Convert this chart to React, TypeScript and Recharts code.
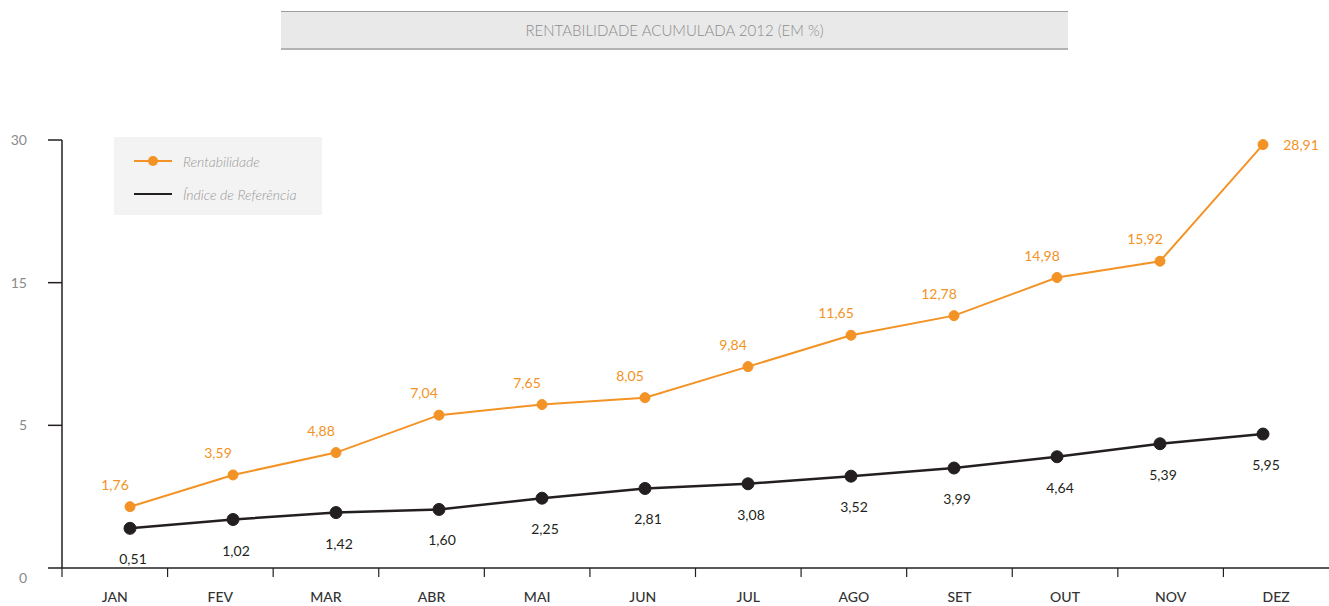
import { LineChart, Line, XAxis, YAxis, Legend, LabelList } from "recharts";

const months = ["JAN", "FEV", "MAR", "ABR", "MAI", "JUN", "JUL", "AGO", "SET", "OUT", "NOV", "DEZ"];
const rentabilidade = [1.76, 3.59, 4.88, 7.04, 7.65, 8.05, 9.84, 11.65, 12.78, 14.98, 15.92, 28.91];
const indice = [0.51, 1.02, 1.42, 1.6, 2.25, 2.81, 3.08, 3.52, 3.99, 4.64, 5.39, 5.95];
const yTicks = [0, 5, 15, 30];

const data = months.map((m, i) => ({ month: m, rent: rentabilidade[i], ind: indice[i] }));

const ORANGE = "#f39325";
const DARK = "#231f20";
const FONT = "Lato, 'Open Sans', sans-serif";
const W = 1329;
const H = 606;
const BAND = (W - 62) / 12;

// the original uses a broken (piecewise) value axis, so build a small d3-like scale
function piecewise(stops: number[], fracs: number[]): any {
  let dom = [stops[0], stops[stops.length - 1]];
  let rng = [0, 1];
  const s: any = (v: number) => {
    let i = 0;
    while (i < stops.length - 2 && v > stops[i + 1]) i++;
    const t = (v - stops[i]) / (stops[i + 1] - stops[i]);
    const f = fracs[i] + t * (fracs[i + 1] - fracs[i]);
    return rng[0] + f * (rng[1] - rng[0]);
  };
  s.domain = (...a: any[]) => {
    if (!a.length) return dom.slice();
    dom = [...a[0]];
    return s;
  };
  s.range = (...a: any[]) => {
    if (!a.length) return rng.slice();
    rng = [...a[0]];
    return s;
  };
  s.copy = () => piecewise(stops, fracs).domain(dom).range(rng);
  s.ticks = () => stops.slice();
  s.tickFormat = () => (v: number) => String(v);
  s.invert = (px: number) => {
    const f = (px - rng[0]) / (rng[1] - rng[0]);
    let i = 0;
    while (i < fracs.length - 2 && f > fracs[i + 1]) i++;
    const t = (f - fracs[i]) / (fracs[i + 1] - fracs[i]);
    return stops[i] + t * (stops[i + 1] - stops[i]);
  };
  s.clamp = () => s;
  s.nice = () => s;
  return s;
}

const axisScale = piecewise([0, 5, 15, 30], [0, 1 / 3, 2 / 3, 1]);
const dataScale = piecewise([0, 16, 30], [0.072, 0.72, 1.012]);

const fmt = (v: number) => v.toFixed(2).replace(".", ",");

function ValueTick({ x, y, payload }: any) {
  return (
    <text x={x} y={y} dy={payload.value === 0 ? 15 : 5} textAnchor="end" fill="#8a8a8a" fontSize={14} fontFamily={FONT}>
      {payload.value}
    </text>
  );
}

function MonthTick({ x, y, payload }: any) {
  return (
    <g>
      <line x1={x - BAND / 2} x2={x - BAND / 2} y1={y} y2={y + 9} stroke={DARK} strokeWidth={1.2} />
      <text x={x} y={y + 34} textAnchor="middle" fill="#333" fontSize={14} fontWeight={500} fontFamily={FONT}>
        {payload.value}
      </text>
    </g>
  );
}

function RentLabel({ x, y, value, index }: any) {
  const last = index === rentabilidade.length - 1;
  return (
    <text x={last ? x + 38 : x - 15} y={last ? y + 5 : y - 17} textAnchor="middle" fill={ORANGE} fontSize={14} fontFamily={FONT}>
      {fmt(value)}
    </text>
  );
}

function IndLabel({ x, y, value }: any) {
  return (
    <text x={x + 3} y={y + 36} textAnchor="middle" fill={DARK} fontSize={14} fontFamily={FONT}>
      {fmt(value)}
    </text>
  );
}

function LegendBox({ payload }: any) {
  return (
    <div style={{ background: "#f3f3f3", width: 208, height: 78, position: "relative", fontFamily: FONT }}>
      {(payload || []).map((p: any, i: number) => (
        <div key={i} style={{ position: "absolute", left: 20, top: 17 + i * 33, height: 14, display: "flex", alignItems: "center" }}>
          <svg width={38} height={14}>
            <line x1={0} x2={38} y1={7} y2={7} stroke={p.color} strokeWidth={2} />
            {p.type !== "plainline" && <circle cx={19} cy={7} r={5} fill={p.color} />}
          </svg>
          <span style={{ marginLeft: 11, fontStyle: "italic", fontWeight: 300, color: "#999", fontSize: 14 }}>{p.value}</span>
        </div>
      ))}
    </div>
  );
}

export default function App() {
  return (
    <div style={{ position: "absolute", left: 0, top: 0, width: W, height: H, background: "#fff" }}>
      <div
        style={{
          position: "absolute",
          left: 281,
          top: 11,
          width: 787,
          height: 36,
          background: "#e9e9e9",
          borderTop: "1px solid #9d9d9d",
          borderBottom: "2px solid #b3b3b3",
          color: "#8c8c8c",
          fontFamily: FONT,
          fontSize: 15,
          fontWeight: 300,
          lineHeight: "36px",
          textAlign: "center",
        }}
      >
        RENTABILIDADE ACUMULADA 2012 (EM %)
      </div>
      <LineChart width={W} height={H} data={data} margin={{ top: 140, right: 0, bottom: 0, left: 0 }}>
        <XAxis
          xAxisId="cat"
          dataKey="month"
          scale="band"
          height={38}
          tickSize={0}
          tickMargin={0}
          tick={<MonthTick />}
          axisLine={{ stroke: DARK, strokeWidth: 1.5 }}
        />
        <XAxis xAxisId="pt" dataKey="month" hide padding={{ left: 68, right: 66 }} />
        <YAxis
          yAxisId="axis"
          type="number"
          domain={[0, 30]}
          ticks={yTicks}
          scale={axisScale}
          allowDataOverflow
          width={62}
          tickSize={14}
          tickMargin={21}
          tick={<ValueTick />}
          tickLine={{ stroke: DARK, strokeWidth: 1.5 }}
          axisLine={{ stroke: DARK, strokeWidth: 1.5 }}
        />
        <YAxis yAxisId="data" type="number" domain={[0, 30]} scale={dataScale} hide />
        <Legend
          layout="vertical"
          align="center"
          verticalAlign="middle"
          content={<LegendBox />}
          wrapperStyle={{ position: "absolute", left: 114, top: 137, width: 208, height: 78 }}
        />
        <Line
          xAxisId="pt"
          yAxisId="data"
          dataKey="rent"
          name="Rentabilidade"
          legendType="circle"
          stroke={ORANGE}
          strokeWidth={2}
          dot={{ r: 5, fill: ORANGE, stroke: ORANGE, strokeWidth: 1 }}
          isAnimationActive={false}
        >
          <LabelList dataKey="rent" content={<RentLabel />} />
        </Line>
        <Line
          xAxisId="pt"
          yAxisId="data"
          dataKey="ind"
          name="Índice de Referência"
          legendType="plainline"
          stroke={DARK}
          strokeWidth={2.5}
          dot={{ r: 6, fill: DARK, stroke: DARK, strokeWidth: 1 }}
          isAnimationActive={false}
        >
          <LabelList dataKey="ind" content={<IndLabel />} />
        </Line>
      </LineChart>
    </div>
  );
}
